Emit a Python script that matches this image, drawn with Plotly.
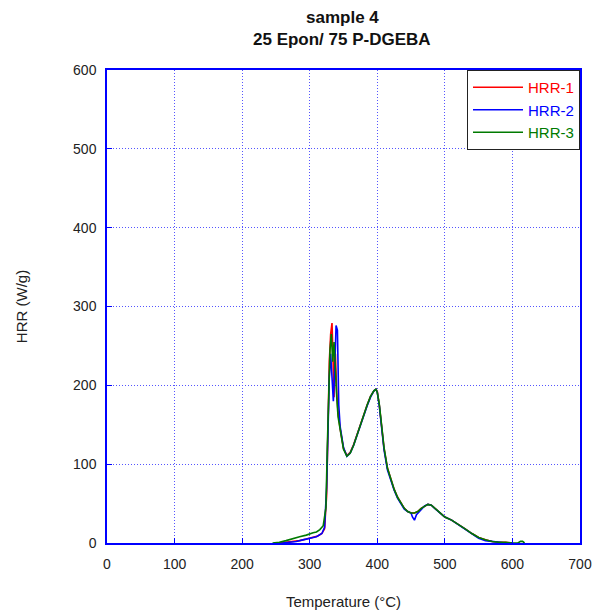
import plotly.graph_objects as go

# HRR-1 (red)
t1 = [255, 265, 275, 285, 295, 305, 312, 318, 322, 325, 327, 329, 331, 333, 334, 335, 336, 337, 338, 340,
      342, 345, 350, 355, 360, 365, 370, 375, 380, 385, 390, 395, 398, 400, 403, 406, 410, 415, 420, 425,
      430, 435, 440, 445, 450, 455, 460, 465, 470, 475, 480, 485, 490, 495, 500, 510, 520, 530, 540, 550,
      560, 570, 580, 590, 600]
h1 = [0, 1, 2, 3, 5, 7, 9, 12, 18, 60, 150, 230, 265, 279, 250, 200, 185, 230, 240, 190,
      165, 145, 120, 111, 115, 125, 138, 150, 163, 175, 186, 193, 195, 192, 175, 150, 120, 95, 80, 68,
      58, 50, 44, 40, 38, 38, 40, 44, 47, 49, 48, 44, 40, 36, 33, 29, 24, 18, 12, 7,
      4, 2, 1, 1, 0]

# HRR-2 (blue)
t2 = [250, 260, 270, 280, 290, 300, 310, 318, 322, 325, 327, 329, 331, 333, 335, 337, 339, 341, 343, 345,
      350, 355, 360, 365, 370, 375, 380, 385, 390, 395, 398, 400, 403, 406, 410, 415, 420, 425, 430, 435,
      440, 445, 450, 452, 455, 458, 462, 466, 470, 475, 480, 485, 490, 495, 500, 510, 520, 530, 540, 550,
      560, 570, 580, 590, 600]
h2 = [0, 0, 1, 2, 4, 6, 8, 12, 20, 70, 160, 210, 240, 215, 180, 220, 276, 270, 175, 148,
      121, 110, 114, 124, 137, 150, 162, 174, 185, 193, 195, 191, 174, 148, 118, 93, 79, 67, 57, 49,
      43, 40, 38, 33, 29, 36, 40, 44, 47, 49, 48, 44, 40, 36, 33, 29, 23, 17, 11, 6,
      3, 2, 1, 0, 0]

# HRR-3 (green)
t3 = [245, 255, 265, 275, 285, 295, 300, 305, 310, 315, 320, 324, 326, 328, 330, 332, 334, 336, 338, 340,
      342, 345, 350, 355, 360, 365, 370, 375, 380, 385, 390, 395, 398, 400, 403, 406, 410, 415, 420, 425,
      430, 435, 440, 445, 450, 455, 460, 465, 470, 475, 480, 485, 490, 495, 500, 510, 520, 530, 540, 550,
      560, 570, 580, 590, 600, 608, 612, 615, 618]
h3 = [0, 1, 3, 6, 8, 10, 12, 13, 14, 17, 22, 45, 120, 200, 245, 265, 230, 255, 215, 185,
      160, 145, 119, 110, 114, 124, 137, 150, 162, 175, 186, 193, 195, 191, 176, 150, 121, 95, 80, 68,
      58, 50, 44, 40, 38, 38, 40, 44, 47, 49, 48, 44, 40, 36, 33, 29, 24, 18, 12, 7,
      4, 2, 1, 1, 0, 0, 2, 2, 0]

names = ["HRR-1", "HRR-2", "HRR-3"]
colors = ["#ff0000", "#0000ff", "#007a00"]

fig = go.Figure()
for t, h, n, c in zip([t1, t2, t3], [h1, h2, h3], names, colors):
    fig.add_trace(go.Scatter(
        x=t, y=h, mode="lines",
        name=f"<span style='color:{c}'>{n}</span>",
        line=dict(color=c, width=1.6),
    ))

axis_common = dict(
    showline=True, linecolor="#0000ff", linewidth=1.5, mirror=True,
    showgrid=True, gridcolor="#5555ff", griddash="1px,2px", gridwidth=1,
    ticks="inside", ticklen=5, tickcolor="#0000ff",
    zeroline=False, automargin=False,
    tickfont=dict(family="Arial, Liberation Sans", size=14, color="#222"),
    title_font=dict(family="Arial, Liberation Sans", size=15, color="#222"),
)

fig.update_layout(
    width=592, height=610,
    margin=dict(l=107, r=12, t=70, b=67),
    paper_bgcolor="white", plot_bgcolor="white",
    xaxis=dict(range=[0, 700], dtick=100, tick0=0, ticklabelstandoff=7,
               title=dict(text="Temperature (°C)", standoff=30), **axis_common),
    yaxis=dict(range=[0, 600], dtick=100, tick0=0, ticklabelstandoff=6,
               title=dict(text="HRR (W/g)", standoff=42), **axis_common),
    legend=dict(
        x=1, xanchor="right", y=1, yanchor="top",
        bgcolor="white", bordercolor="#222", borderwidth=1,
        font=dict(family="Arial, Liberation Sans", size=15),
        itemwidth=50, tracegroupgap=0,
    ),
    showlegend=True,
    annotations=[
        dict(text="<b>sample 4</b>", xref="paper", yref="paper",
             x=0.497, y=1 + 53 / 473, xanchor="center", yanchor="middle", showarrow=False,
             font=dict(family="Arial, Liberation Sans", size=17, color="#111")),
        dict(text="<b>25 Epon/ 75 P-DGEBA</b>", xref="paper", yref="paper",
             x=0.497, y=1 + 30 / 473, xanchor="center", yanchor="middle", showarrow=False,
             font=dict(family="Arial, Liberation Sans", size=17, color="#111")),
    ],
)

fig.write_html("out.html")
